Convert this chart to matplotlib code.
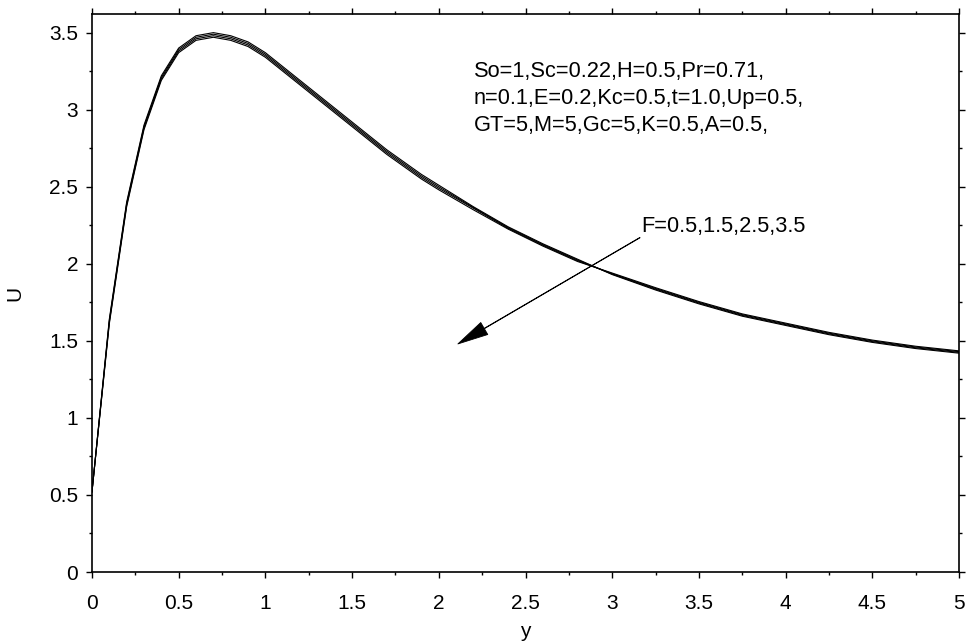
import numpy as np
import matplotlib
matplotlib.use('Agg')
import matplotlib.pyplot as plt
from matplotlib.ticker import MultipleLocator

plt.rcParams['font.family'] = ['Liberation Sans', 'DejaVu Sans']

#distance values
y = [0, 0.1, 0.2, 0.3, 0.4, 0.5, 0.6, 0.7, 0.8, 0.9, 1.0, 1.1, 1.2, 1.3, 1.4,
     1.5, 1.6, 1.7, 1.8, 1.9, 2.0, 2.2, 2.4, 2.6, 2.8, 3.0, 3.25, 3.5, 3.75,
     4.0, 4.25, 4.5, 4.75, 5.0]

#velocity profiles for F=0.5,1.5,2.5,3.5
U_F05 = [0.52, 1.64, 2.40, 2.90, 3.22, 3.40, 3.48, 3.50, 3.48, 3.44, 3.37, 3.28,
         3.19, 3.10, 3.01, 2.92, 2.83, 2.74, 2.66, 2.58, 2.51, 2.37, 2.24, 2.13,
         2.03, 1.93, 1.83, 1.74, 1.66, 1.60, 1.54, 1.49, 1.45, 1.42]
U_F15 = [0.52, 1.63, 2.39, 2.89, 3.21, 3.39, 3.47, 3.49, 3.47, 3.43, 3.36, 3.27,
         3.18, 3.09, 3.00, 2.91, 2.82, 2.73, 2.65, 2.57, 2.50, 2.365, 2.235, 2.125,
         2.025, 1.933, 1.835, 1.745, 1.665, 1.605, 1.545, 1.495, 1.455, 1.425]
U_F25 = [0.52, 1.62, 2.38, 2.88, 3.20, 3.38, 3.46, 3.48, 3.46, 3.42, 3.35, 3.26,
         3.17, 3.08, 2.99, 2.90, 2.81, 2.72, 2.64, 2.56, 2.49, 2.36, 2.23, 2.12,
         2.02, 1.936, 1.84, 1.75, 1.67, 1.61, 1.55, 1.50, 1.46, 1.43]
U_F35 = [0.52, 1.61, 2.37, 2.87, 3.19, 3.37, 3.45, 3.47, 3.45, 3.41, 3.34, 3.25,
         3.16, 3.07, 2.98, 2.89, 2.80, 2.71, 2.63, 2.55, 2.48, 2.35, 2.225, 2.115,
         2.015, 1.94, 1.845, 1.755, 1.675, 1.615, 1.555, 1.505, 1.465, 1.435]

params = ('So=1,Sc=0.22,H=0.5,Pr=0.71,\n'
          'n=0.1,E=0.2,Kc=0.5,t=1.0,Up=0.5,\n'
          'GT=5,M=5,Gc=5,K=0.5,A=0.5,')

fig = plt.figure(figsize=(9.66, 6.43), dpi=100)
ax = fig.add_axes([0.0952, 0.1104, 0.8976, 0.8676])

for U in [U_F05, U_F15, U_F25, U_F35]:
    ax.plot(y, U, color='black', lw=0.8)

ax.set_xlim(0, 5)
ax.set_ylim(0, 3.62)
ax.xaxis.set_major_locator(MultipleLocator(0.5))
ax.xaxis.set_minor_locator(MultipleLocator(0.25))
ax.yaxis.set_major_locator(MultipleLocator(0.5))
ax.yaxis.set_minor_locator(MultipleLocator(0.25))
ax.tick_params(which='both', direction='out', top=True, right=True,
               labelsize=15, width=1)
ax.tick_params(which='major', length=4)
ax.tick_params(axis='x', which='major', pad=12)
ax.tick_params(axis='y', which='major', pad=6)
ax.tick_params(which='minor', length=2.5)
for s in ax.spines.values():
    s.set_linewidth(1.2)

ax.xaxis.set_major_formatter(plt.FuncFormatter(lambda v, p: '%g' % v))
ax.yaxis.set_major_formatter(plt.FuncFormatter(lambda v, p: '%g' % v))

ax.set_xlabel('y', fontsize=15, labelpad=6)
ax.set_ylabel('U', fontsize=15, labelpad=18)

ax.text(2.2, 3.07, params, fontsize=15.7, va='center', ha='left', linespacing=1.38)
ax.text(3.17, 2.24, 'F=0.5,1.5,2.5,3.5', fontsize=15.7, va='center', ha='left')
ax.annotate('', xy=(2.11, 1.48), xytext=(3.16, 2.17),
            arrowprops=dict(width=0.3, headwidth=10, headlength=22,
                            facecolor='black', edgecolor='black', lw=0.6,
                            shrink=0))

plt.savefig('out.png', dpi=100)
